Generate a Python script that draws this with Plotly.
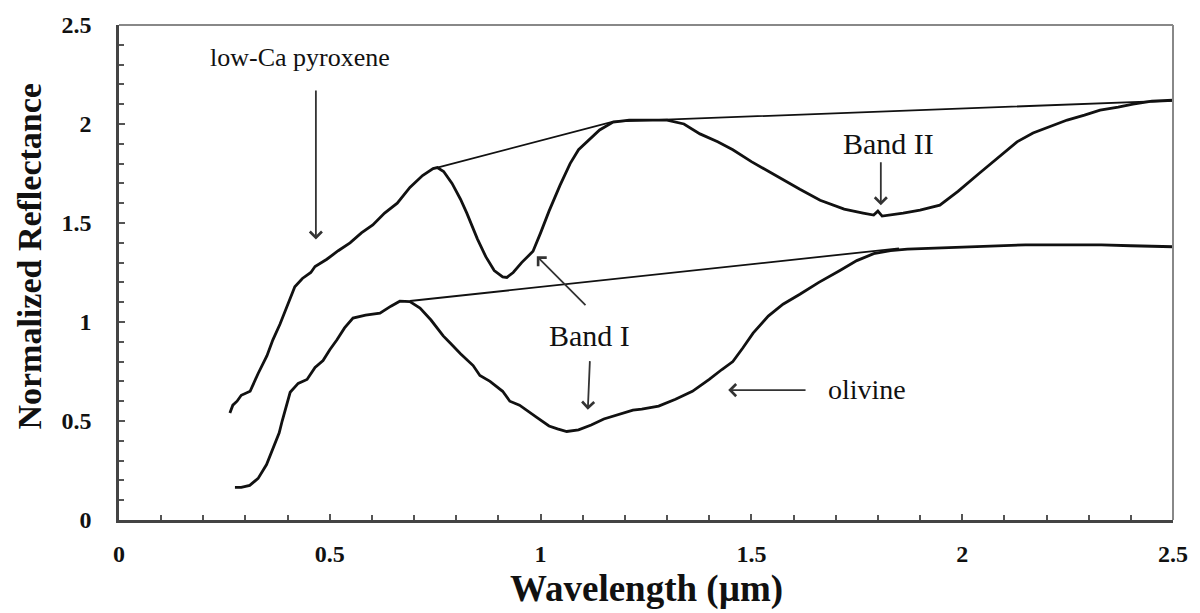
import plotly.graph_objects as go

# Wavelength (µm) and normalized reflectance for the low-Ca pyroxene spectrum
pyx_wl = [0.263, 0.27, 0.28, 0.29, 0.311, 0.33, 0.351, 0.365, 0.382, 0.40, 0.417, 0.435,
          0.446, 0.455, 0.465, 0.48, 0.493, 0.52, 0.548, 0.575, 0.602, 0.63, 0.66, 0.69,
          0.72, 0.745, 0.755, 0.77, 0.79, 0.81, 0.825, 0.85, 0.87, 0.89, 0.91, 0.92,
          0.935, 0.955, 0.982, 1.00, 1.02, 1.046, 1.07, 1.09, 1.11, 1.14, 1.172, 1.21,
          1.25, 1.30, 1.34, 1.378, 1.42, 1.456, 1.50, 1.54, 1.58, 1.615, 1.663, 1.72,
          1.765, 1.79, 1.80, 1.81, 1.86, 1.90, 1.947, 1.99, 2.04, 2.09, 2.13, 2.168,
          2.21, 2.249, 2.29, 2.327, 2.37, 2.405, 2.45, 2.50]
pyx_refl = [0.54, 0.58, 0.60, 0.63, 0.65, 0.74, 0.83, 0.91, 0.99, 1.09, 1.178, 1.22,
            1.235, 1.25, 1.28, 1.30, 1.317, 1.36, 1.40, 1.45, 1.49, 1.55, 1.60, 1.68,
            1.74, 1.775, 1.78, 1.76, 1.70, 1.62, 1.55, 1.42, 1.33, 1.26, 1.228, 1.225,
            1.25, 1.30, 1.357, 1.45, 1.56, 1.69, 1.80, 1.87, 1.91, 1.97, 2.01, 2.02,
            2.02, 2.02, 2.00, 1.95, 1.91, 1.87, 1.81, 1.76, 1.71, 1.67, 1.615, 1.57,
            1.55, 1.54, 1.56, 1.535, 1.55, 1.565, 1.59, 1.66, 1.75, 1.84, 1.91, 1.955,
            1.99, 2.02, 2.045, 2.07, 2.085, 2.10, 2.115, 2.12]

# Wavelength (µm) and normalized reflectance for the olivine spectrum
olv_wl = [0.275, 0.29, 0.31, 0.33, 0.35, 0.365, 0.38, 0.387, 0.397, 0.406, 0.425, 0.446,
          0.465, 0.484, 0.50, 0.517, 0.535, 0.555, 0.585, 0.619, 0.645, 0.666, 0.69,
          0.714, 0.74, 0.769, 0.785, 0.81, 0.84, 0.856, 0.88, 0.91, 0.927, 0.95, 0.99,
          1.02, 1.04, 1.062, 1.09, 1.12, 1.15, 1.19, 1.219, 1.24, 1.28, 1.32, 1.36,
          1.38, 1.40, 1.43, 1.456, 1.48, 1.504, 1.54, 1.575, 1.615, 1.66, 1.71, 1.75,
          1.79, 1.83, 1.87, 1.92, 1.97, 2.05, 2.15, 2.25, 2.33, 2.40, 2.50]
olv_refl = [0.165, 0.165, 0.175, 0.21, 0.28, 0.36, 0.44, 0.50, 0.57, 0.645, 0.69, 0.71,
            0.77, 0.805, 0.86, 0.91, 0.97, 1.02, 1.035, 1.045, 1.08, 1.105, 1.103,
            1.07, 1.01, 0.93, 0.895, 0.84, 0.78, 0.73, 0.70, 0.65, 0.60, 0.58, 0.52,
            0.475, 0.46, 0.447, 0.455, 0.48, 0.51, 0.535, 0.555, 0.56, 0.575, 0.61, 0.65,
            0.68, 0.71, 0.76, 0.80, 0.87, 0.944, 1.03, 1.09, 1.14, 1.20, 1.26, 1.31,
            1.345, 1.36, 1.368, 1.372, 1.375, 1.385, 1.39, 1.39, 1.39, 1.385, 1.38]

# Continuum (tangent) lines drawn over each spectrum
pyx_cont_wl = [0.755, 1.172, 2.50]
pyx_cont_refl = [1.78, 2.012, 2.118]
olv_cont_wl = [0.69, 1.85]
olv_cont_refl = [1.106, 1.372]

x_ticks = [0, 0.5, 1, 1.5, 2, 2.5]
y_ticks = [0, 0.5, 1, 1.5, 2, 2.5]

SERIF = "Liberation Serif, Times New Roman, serif"
INK = "#111111"

fig = go.Figure()
fig.add_trace(go.Scatter(x=pyx_cont_wl, y=pyx_cont_refl, mode="lines",
                         line=dict(color=INK, width=1.8), hoverinfo="skip"))
fig.add_trace(go.Scatter(x=olv_cont_wl, y=olv_cont_refl, mode="lines",
                         line=dict(color=INK, width=1.8), hoverinfo="skip"))
fig.add_trace(go.Scatter(x=pyx_wl, y=pyx_refl, mode="lines", name="low-Ca pyroxene",
                         line=dict(color=INK, width=2.8)))
fig.add_trace(go.Scatter(x=olv_wl, y=olv_refl, mode="lines", name="olivine",
                         line=dict(color=INK, width=2.8)))

ARROW = dict(showarrow=True, arrowhead=4, arrowsize=1.3, arrowwidth=1.8,
             arrowcolor="#333333", axref="x", ayref="y", text="")
annotations = [
    # text labels
    dict(x=0.429, y=2.336, text="low-Ca pyroxene", showarrow=False,
         font=dict(family=SERIF, size=26, color=INK)),
    dict(x=1.117, y=0.93, text="Band I", showarrow=False,
         font=dict(family=SERIF, size=30, color=INK)),
    dict(x=1.824, y=1.904, text="Band II", showarrow=False,
         font=dict(family=SERIF, size=30, color=INK)),
    dict(x=1.774, y=0.661, text="olivine", showarrow=False,
         font=dict(family=SERIF, size=28, color=INK)),
    # pointer arrows (tail at ax/ay, head at x/y)
    dict(x=0.467, y=1.417, ax=0.467, ay=2.177, **ARROW),
    dict(x=0.991, y=1.332, ax=1.11, ay=1.078, **ARROW),
    dict(x=1.112, y=0.557, ax=1.117, ay=0.81, **ARROW),
    dict(x=1.807, y=1.59, ax=1.807, ay=1.814, **ARROW),
    dict(x=1.445, y=0.656, ax=1.632, ay=0.656, **ARROW),
    # axis titles
    dict(xref="paper", yref="paper", x=0.5, y=-0.14, yanchor="middle",
         text="<b>Wavelength (µm)</b>", showarrow=False,
         font=dict(family=SERIF, size=37, color=INK)),
    dict(xref="paper", yref="paper", x=-0.085, y=0.533, xanchor="center", yanchor="middle",
         text="<b>Normalized Reflectance</b>", showarrow=False, textangle=-90,
         font=dict(family=SERIF, size=34, color=INK)),
]

axis_common = dict(
    showgrid=False, zeroline=False, showline=True, linecolor="#444444", linewidth=2.5,
    ticks="inside", ticklen=6, tickwidth=1.5, tickcolor="#555555",
    tickfont=dict(family=SERIF, size=24, color=INK),
    minor=dict(ticks="inside", ticklen=5, tickwidth=1.5, tickcolor="#555555", dtick=0.1),
)

fig.update_layout(
    width=1200, height=613,
    margin=dict(l=119, r=27, t=17, b=93),
    paper_bgcolor="white", plot_bgcolor="white",
    showlegend=False,
    annotations=annotations,
    xaxis=dict(range=[0, 2.5], tickvals=x_ticks, ticktext=[f"<b>{v:g}</b>" for v in x_ticks],
               ticklabelstandoff=10, **axis_common),
    yaxis=dict(range=[0, 2.5], tickvals=y_ticks, ticktext=[f"<b>{v:g}</b>" for v in y_ticks],
               ticklabelstandoff=20, **axis_common),
    shapes=[
        dict(type="line", xref="paper", yref="paper", x0=0, x1=1, y0=1, y1=1,
             line=dict(color="#888888", width=2)),
        dict(type="line", xref="paper", yref="paper", x0=1, x1=1, y0=0, y1=1,
             line=dict(color="#888888", width=2)),
    ],
)

fig.write_html("out.html")
